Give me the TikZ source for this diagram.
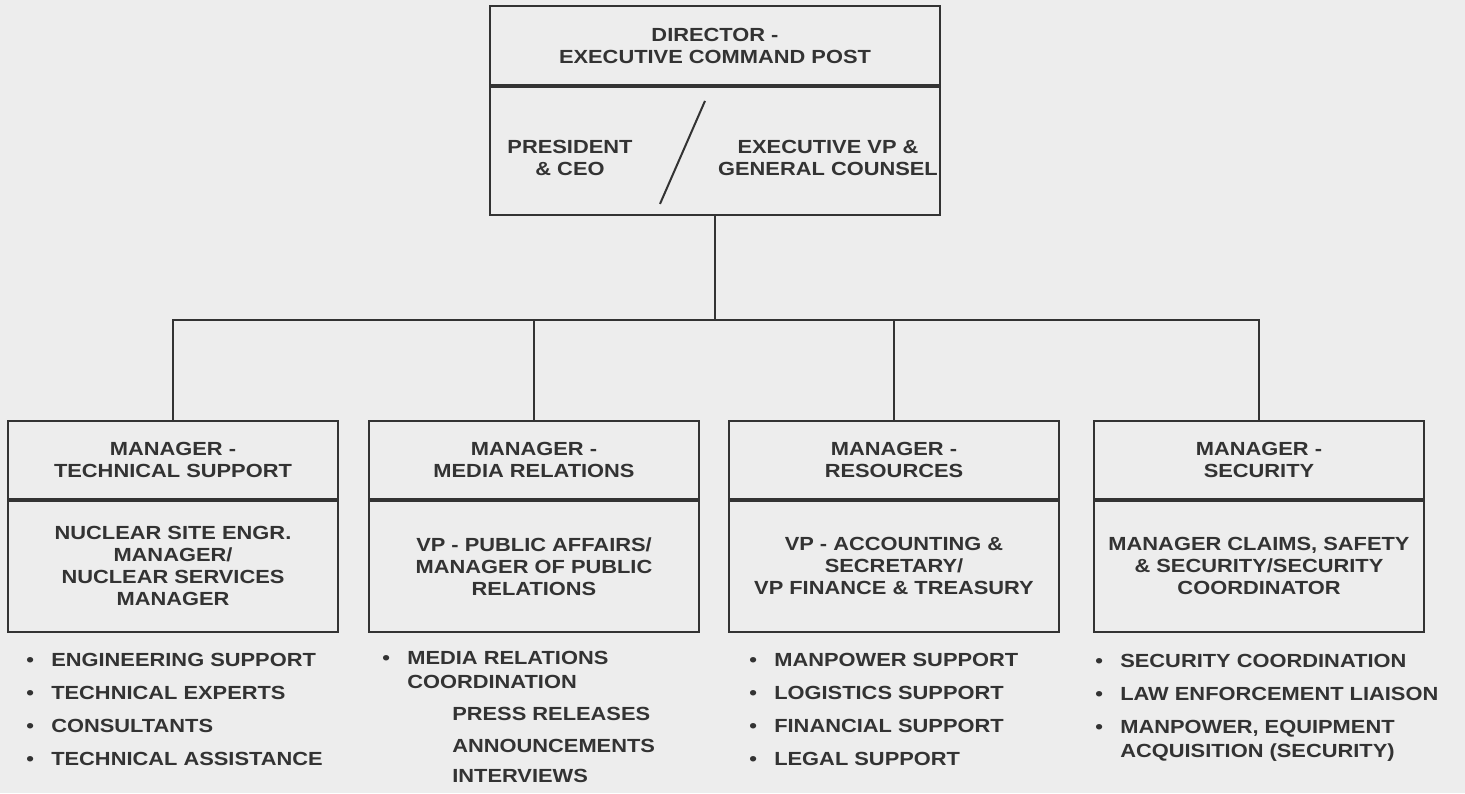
\documentclass[tikz,border=0pt]{standalone}
\usepackage{fontspec}
\setmainfont{Liberation Sans}[FakeStretch=1.15]
\usetikzlibrary{positioning}

\definecolor{paper}{gray}{0.93}
\definecolor{ink}{gray}{0.2}
\newcommand{\itm}[1]{\makebox[25pt][l]{\textbullet}#1}
\newcommand{\cnt}[1]{\hspace*{25pt}#1}

\begin{document}
\begin{tikzpicture}[x=1pt, y=-1pt,
  every node/.style={text=ink, inner sep=0pt, font=\bfseries\fontsize{19}{22}\selectfont},
  head/.style={draw=ink, line width=1.8pt, minimum width=330pt, minimum height=78pt, align=center},
  body/.style={draw=ink, line width=1.8pt, minimum width=330pt, minimum height=131pt, align=center},
  duty/.style={align=left, font=\bfseries\fontsize{19}{24}\selectfont},
  link/.style={draw=ink, line width=1.8pt}]

  \fill [paper] (0,0) rectangle (1465,793);

  \node (dir) [head, minimum width=450pt, minimum height=79pt] at (715,45.5) {DIRECTOR -\\EXECUTIVE COMMAND POST};
  \node (dirlow) [body, minimum width=450pt, minimum height=128pt, below=0pt of dir] {};
  \node (ceo) [align=center] at (570,158) {PRESIDENT\\\& CEO};
  \node (evp) [align=center] at (828,158) {EXECUTIVE VP \&\\GENERAL COUNSEL};
  \draw [link, line width=2pt] ([shift={(-10,15)}]dirlow.north) -- ([shift={(-55,118)}]dirlow.north);

  \coordinate (bus) at (715,320);

  \node (techhead) [head] at (173,460) {MANAGER -\\TECHNICAL SUPPORT};
  \node (techbody) [body, below=0pt of techhead] {NUCLEAR SITE ENGR.\\MANAGER/\\NUCLEAR SERVICES\\MANAGER};

  \node (mediahead) [head] at (534,460) {MANAGER -\\MEDIA RELATIONS};
  \node (mediabody) [body, below=0pt of mediahead] {VP - PUBLIC AFFAIRS/\\MANAGER OF PUBLIC\\RELATIONS};

  \node (reshead) [head] at (894,460) {MANAGER -\\RESOURCES};
  \node (resbody) [body, below=0pt of reshead] {VP - ACCOUNTING \&\\SECRETARY/\\VP FINANCE \& TREASURY};

  \node (sechead) [head] at (1259,460) {MANAGER -\\SECURITY};
  \node (secbody) [body, below=0pt of sechead] {MANAGER CLAIMS, SAFETY\\\& SECURITY/SECURITY\\COORDINATOR};

  % duties under each manager
  \node (techduty) [duty, below right=20pt and 19pt of techbody.south west]
    {\itm{ENGINEERING SUPPORT}\\[9pt]\itm{TECHNICAL EXPERTS}\\[9pt]\itm{CONSULTANTS}\\[9pt]\itm{TECHNICAL ASSISTANCE}};
  \node (mediaduty) [duty, below right=18pt and 14pt of mediabody.south west]
    {\itm{MEDIA RELATIONS}\\\cnt{COORDINATION}\\[8pt]\cnt{\hspace*{45pt}PRESS RELEASES}\\[8pt]\cnt{\hspace*{45pt}ANNOUNCEMENTS}\\[6pt]\cnt{\hspace*{45pt}INTERVIEWS}};
  \node (resduty) [duty, below right=20pt and 21pt of resbody.south west]
    {\itm{MANPOWER SUPPORT}\\[9pt]\itm{LOGISTICS SUPPORT}\\[9pt]\itm{FINANCIAL SUPPORT}\\[9pt]\itm{LEGAL SUPPORT}};
  \node (secduty) [duty, below right=21pt and 2pt of secbody.south west]
    {\itm{SECURITY COORDINATION}\\[9pt]\itm{LAW ENFORCEMENT LIAISON}\\[9pt]\itm{MANPOWER, EQUIPMENT}\\\cnt{ACQUISITION (SECURITY)}};

  \draw [link] (dirlow.south) -- (bus);
  \draw [link] (techhead.north) |- (bus) -| (sechead.north);
  \draw [link] (mediahead.north) -- (mediahead.north |- bus);
  \draw [link] (reshead.north) -- (reshead.north |- bus);
\end{tikzpicture}
\end{document}
